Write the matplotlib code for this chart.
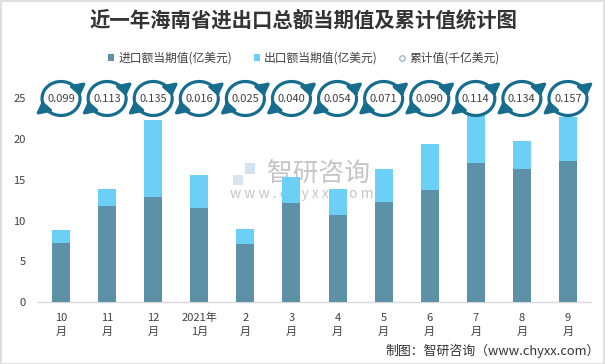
import numpy as np
import matplotlib
matplotlib.use("Agg")
import matplotlib.pyplot as plt
from matplotlib.patches import Patch, FancyArrowPatch, Rectangle, Ellipse
from matplotlib.lines import Line2D
from matplotlib.path import Path
from matplotlib.transforms import ScaledTranslation

plt.rcParams['font.family'] = ['Noto Sans CJK SC', 'DejaVu Sans']

months = ["10\n月", "11\n月", "12\n月", "2021年\n1月", "2\n月", "3\n月", "4\n月",
          "5\n月", "6\n月", "7\n月", "8\n月", "9\n月"]
imports = [7.2, 11.8, 12.9, 11.55, 7.1, 12.2, 10.7, 12.3, 13.8, 17.1, 16.3, 17.3]
totals = [8.8, 13.9, 22.4, 15.65, 8.95, 15.4, 13.9, 16.3, 19.4, 24.0, 19.75, 22.7]
exports = [t - i for t, i in zip(totals, imports)]
cumulative = [0.099, 0.113, 0.135, 0.016, 0.025, 0.040, 0.054, 0.071, 0.090, 0.114, 0.134, 0.157]
yticks = [0, 5, 10, 15, 20, 25]

c_imp = "#5D91A8"
c_exp = "#6CCFF6"
c_icon = "#176D8E"
c_text = "#404040"

W, H = 605, 364
fig = plt.figure(figsize=(W / 100, H / 100), dpi=100)
fig.patch.set_facecolor("white")
fig.add_artist(Rectangle((0.5 / W, 0.5 / H), 1 - 1.5 / W, 1 - 1.5 / H, transform=fig.transFigure,
                         fill=False, edgecolor="#D9D9D9", linewidth=1.2))

# watermark (behind the bars)
fig.add_artist(Rectangle((233 / W, 1 - 185 / H), 10 / W, 10 / H, transform=fig.transFigure,
                         facecolor="#D3DCEB", edgecolor="none", alpha=0.8, zorder=0))
fig.add_artist(Rectangle((245 / W, 1 - 174 / H), 10 / W, 11 / H, transform=fig.transFigure,
                         facecolor="#C5DDF0", edgecolor="none", alpha=0.8, zorder=0))
fig.text(318 / W, 1 - 174 / H, "智研咨询", fontsize=18.5, color="#BBBBBB", ha="center", va="center",
         alpha=0.85, zorder=0)
fig.text(302 / W, 1 - 194 / H, "w w w . c h y x x . c o m", fontsize=10, color="#BBBBBB",
         ha="center", va="center", alpha=0.85, zorder=0)

ax = fig.add_axes([38 / W, 1 - 302 / H, (591 - 38) / W, (302 - 98.5) / H])
ax.set_zorder(2)
x = np.arange(len(months))
ax.bar(x, imports, width=0.39, color=c_imp, zorder=3)
ax.bar(x, exports, width=0.39, bottom=imports, color=c_exp, zorder=3)

ax.set_xlim(-0.5, len(months) - 0.5)
ax.set_ylim(0, 25)
ax.set_yticks(yticks)
ax.set_xticks(x)
ax.set_xticklabels(months, fontsize=8, color=c_text, linespacing=1.45)
ax.tick_params(axis='y', length=0, pad=9, labelsize=8, labelcolor=c_text)
ax.tick_params(axis='x', length=0, pad=8)
for s in ["top", "right", "left"]:
    ax.spines[s].set_visible(False)
ax.spines["bottom"].set_color("#D9D9D9")
ax.spines["bottom"].set_linewidth(1)
ax.patch.set_alpha(0)

# circular arrow icons with cumulative values
a, b = 19.0, 17.0
def arc(t0, t1, n=40):
    t = np.radians(np.linspace(t0, t1, n))
    return Path(np.column_stack([a * np.cos(t), b * np.sin(t)]))

for i, v in enumerate(cumulative):
    tr = ScaledTranslation(i, 25, ax.transData)
    ax.add_artist(Ellipse((0, 0), 2 * a - 2, 2 * b - 2, transform=tr, facecolor="white",
                          edgecolor="none", clip_on=False, zorder=4))
    for (t0, t1) in [(192, 8), (6, -172)]:
        p = FancyArrowPatch(path=arc(t0, t1), arrowstyle="-|>,head_length=0.6,head_width=0.45",
                            mutation_scale=10, color=c_icon, linewidth=2.3,
                            transform=tr, clip_on=False, zorder=5)
        ax.add_artist(p)
    ax.text(i, 25, f"{v:.3f}", ha="center", va="center", fontsize=8, color=c_text,
            zorder=6, clip_on=False)

# title
fig.text(303 / W, 1 - 20 / H, "近一年海南省进出口总额当期值及累计值统计图", ha="center", va="center",
         fontsize=14.7, fontweight="bold", color="#333333")

# legend
handles = [Patch(facecolor=c_imp, edgecolor="none"),
           Patch(facecolor=c_exp, edgecolor="none"),
           Line2D([], [], linestyle="none", marker="o", markersize=4, markerfacecolor="white",
                  markeredgecolor="#8FA9B8", markeredgewidth=0.8)]
labels = ["进口额当期值(亿美元)", "出口额当期值(亿美元)", "累计值(千亿美元)"]
fig.legend(handles, labels, loc="center", bbox_to_anchor=(304 / W, 1 - 58 / H), ncol=3,
           frameon=False, fontsize=8.5, handlelength=0.55, handleheight=0.55,
           handletextpad=0.35, columnspacing=1.8, labelcolor=c_text)

# footer
fig.text(600 / W, 1 - 351 / H, "制图：智研咨询（www.chyxx.com）", ha="right", va="center",
         fontsize=9.3, color="#333333")

fig.savefig("out.png", dpi=100, facecolor="white")
